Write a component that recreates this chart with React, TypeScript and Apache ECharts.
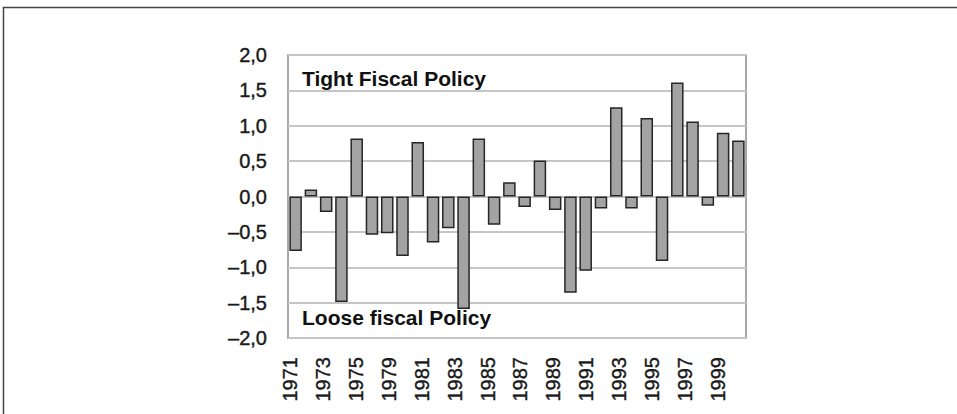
import React, { useEffect, useRef } from "react";
import * as echarts from "echarts";

const years = [
  "1971", "1972", "1973", "1974", "1975", "1976", "1977", "1978", "1979", "1980",
  "1981", "1982", "1983", "1984", "1985", "1986", "1987", "1988", "1989", "1990",
  "1991", "1992", "1993", "1994", "1995", "1996", "1997", "1998", "1999", "2000",
];
const values = [
  -0.77, 0.10, -0.22, -1.49, 0.82, -0.54, -0.52, -0.84, 0.77, -0.65,
  -0.45, -1.59, 0.82, -0.40, 0.20, -0.15, 0.51, -0.19, -1.36, -1.05,
  -0.17, 1.26, -0.17, 1.11, -0.91, 1.61, 1.06, -0.13, 0.90, 0.79,
];
const tickLabels = [
  "1971", "1973", "1975", "1979", "1981", "1983", "1985",
  "1987", "1989", "1991", "1993", "1995", "1997", "1999",
];
const topNote = "Tight Fiscal Policy";
const bottomNote = "Loose fiscal Policy";

const FONT = "'Liberation Sans', Arial, Helvetica, sans-serif";

export default function App() {
  const ref = useRef<HTMLDivElement>(null);
  useEffect(() => {
    if (!ref.current) return;
    const chart = echarts.init(ref.current, undefined, { renderer: "svg" });
    chart.setOption({
      animation: false,
      backgroundColor: "#ffffff",
      grid: [
        {
          left: 288, top: 55, width: 458, height: 283,
          show: true, borderColor: "#8c8c8c", borderWidth: 1.5,
          backgroundColor: "transparent",
        },
        { left: 273.5, top: 55, width: 461, height: 283, show: false },
      ],
      xAxis: [
        {
          type: "category", data: years, gridIndex: 0,
          axisLine: { show: false }, axisTick: { show: false },
          axisLabel: { show: false }, splitLine: { show: false },
        },
        {
          type: "category", data: tickLabels, gridIndex: 1,
          axisLine: { show: false }, axisTick: { show: false },
          splitLine: { show: false },
          axisLabel: {
            rotate: 90, margin: 19, interval: 0,
            fontFamily: FONT, fontSize: 20, color: "#1a1a1a",
            textBorderColor: "#1a1a1a", textBorderWidth: 0.4,
          },
        },
      ],
      yAxis: [
        {
          type: "value", gridIndex: 0, min: -2, max: 2, interval: 0.5,
          axisLine: { show: false }, axisTick: { show: false },
          splitLine: { show: true, lineStyle: { color: "#c6c6c6", width: 2 } },
          axisLabel: {
            margin: 21, fontFamily: FONT, fontSize: 20, color: "#1a1a1a",
            textBorderColor: "#1a1a1a", textBorderWidth: 0.4,
            formatter: (v: number) => v.toFixed(1).replace(".", ",").replace("-", "\u2013"),
          },
        },
        { type: "value", gridIndex: 1, show: false, min: -2, max: 2 },
      ],
      series: [
        {
          type: "bar", data: values, xAxisIndex: 0, yAxisIndex: 0,
          barCategoryGap: "18%",
          itemStyle: { color: "#a3a3a3", borderColor: "#262626", borderWidth: 1.5 },
        },
      ],
      graphic: [
        {
          type: "rect", silent: true, z: 100,
          shape: { x: 3.5, y: 7.5, width: 1000, height: 1000 },
          style: { fill: "none", stroke: "#444", lineWidth: 1.5 },
        },
        {
          type: "text", x: 302, y: 78, z: 100,
          style: {
            text: topNote, fontFamily: FONT, fontSize: 21, fontWeight: "bold",
            fill: "#111", textVerticalAlign: "middle", textAlign: "left",
          },
        },
        {
          type: "text", x: 302, y: 317, z: 100,
          style: {
            text: bottomNote, fontFamily: FONT, fontSize: 21, fontWeight: "bold",
            fill: "#111", textVerticalAlign: "middle", textAlign: "left",
          },
        },
      ],
    });
    return () => chart.dispose();
  }, []);
  return (
    <div
      ref={ref}
      style={{ position: "fixed", left: 0, top: 0, width: 957, height: 414 }}
    />
  );
}
